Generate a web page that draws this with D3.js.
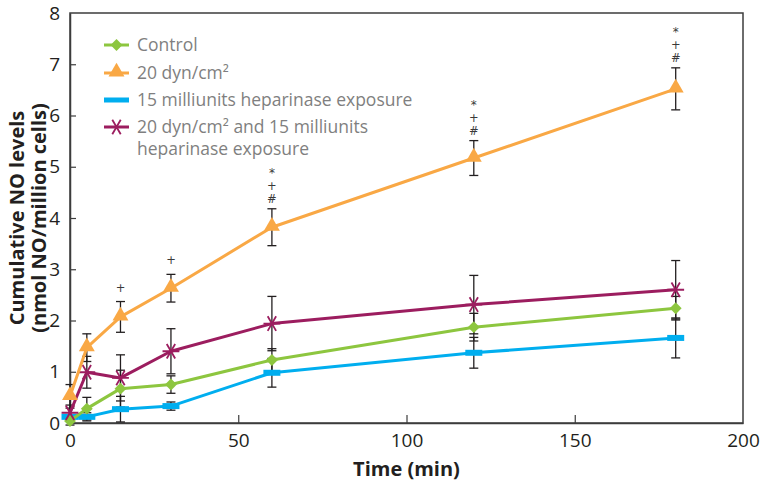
<!DOCTYPE html>
<html><head><meta charset="utf-8">
<script src="https://cdn.jsdelivr.net/npm/d3@7"></script>
<style>
body{margin:0;background:#fff;}
svg{display:block;font-family:"Open Sans","Liberation Sans",sans-serif;}
</style></head>
<body><svg id="c" width="764" height="485"></svg>
<script>
const times = [0, 5, 15, 30, 60, 120, 180];
const seriesNames = ["Control", "20 dyn/cm²", "15 milliunits heparinase exposure", "20 dyn/cm² and 15 milliunits heparinase exposure"];
const controlVals = [0.04, 0.28, 0.67, 0.75, 1.23, 1.87, 2.24];
const controlErr  = [0.08, 0.22, 0.36, 0.17, 0.22, 0.27, 0.23];
const shearVals   = [0.52, 1.47, 2.07, 2.63, 3.82, 5.17, 6.52];
const shearErr    = [0.23, 0.27, 0.3, 0.27, 0.36, 0.34, 0.41];
const heparVals   = [0.12, 0.12, 0.27, 0.33, 0.98, 1.37, 1.66];
const heparErr    = [0.04, 0.08, 0.25, 0.08, 0.28, 0.3, 0.39];
const comboVals   = [0.2, 0.99, 0.88, 1.4, 1.94, 2.31, 2.6];
const comboErr    = [0.15, 0.31, 0.45, 0.44, 0.53, 0.57, 0.57];
const annotations = ["", "", "+", "+", "*+#", "*+#", "*+#"];
const xTicks = [0, 50, 100, 150, 200];
const yTicks = [0, 1, 2, 3, 4, 5, 6, 7, 8];

const W = 764, H = 485;
const m = {l: 70, r: 21, t: 13, b: 62};
const svg = d3.select("#c");
const x = d3.scaleLinear().domain([0, 200]).range([m.l, W - m.r]);
const y = d3.scaleLinear().domain([0, 8]).range([H - m.b, m.t]);

const axisCol = "#3c3c3c", textCol = "#231f20";

svg.append("rect").attr("x", m.l).attr("y", m.t)
  .attr("width", W - m.r - m.l).attr("height", H - m.b - m.t)
  .attr("fill", "none").attr("stroke", axisCol).attr("stroke-width", 1.5);

const xa = svg.append("g").attr("transform", `translate(0,${H - m.b})`)
  .call(d3.axisBottom(x).tickValues(xTicks).tickSizeInner(-8).tickSizeOuter(0).tickPadding(11));
const ya = svg.append("g").attr("transform", `translate(${m.l},0)`)
  .call(d3.axisLeft(y).tickValues(yTicks).tickSizeInner(-6).tickSizeOuter(0).tickPadding(10));
[xa, ya].forEach(a => {
  a.select(".domain").attr("stroke", axisCol).attr("stroke-width", 1.5);
  a.selectAll(".tick line").attr("stroke", axisCol).attr("stroke-width", 1.2);
  a.selectAll(".tick text").attr("fill", textCol).style("font-size", "19px")
   .style("font-family", "'Open Sans', sans-serif").style("font-weight", 400);
});
xa.selectAll(".tick").filter(d => d === 0 || d === 200).select("line").remove();
ya.selectAll(".tick").filter(d => d === 0 || d === 8).select("line").remove();

svg.append("text").attr("x", x(100)).attr("y", 476).attr("text-anchor", "middle")
  .attr("fill", textCol).style("font-size", "20px").style("font-weight", 700)
  .style("font-family", "'Open Sans', sans-serif")
  .text("Time (min)");
const yt = svg.append("text").attr("transform", `translate(24,${y(4)}) rotate(-90)`)
  .attr("text-anchor", "middle").attr("fill", textCol)
  .style("font-size", "20px").style("font-weight", 700).style("font-family", "'Open Sans', sans-serif");
yt.append("tspan").attr("x", 0).attr("dy", 0).text("Cumulative NO levels");
yt.append("tspan").attr("x", 0).attr("dy", 22).text("(nmol NO/million cells)");

const series = [
  {name: seriesNames[0], vals: controlVals, err: controlErr, color: "#8dc63f", marker: "diamond"},
  {name: seriesNames[1], vals: shearVals, err: shearErr, color: "#f9a845", marker: "triangle"},
  {name: seriesNames[2], vals: heparVals, err: heparErr, color: "#00aeef", marker: "dash"},
  {name: seriesNames[3], vals: comboVals, err: comboErr, color: "#9c1d5f", marker: "asterisk"}
];

const eb = svg.append("g");
series.forEach(s => {
  times.forEach((t, i) => {
    const cx = x(t), y1 = y(s.vals[i] + s.err[i]), y2 = y(s.vals[i] - s.err[i]);
    eb.append("line").attr("x1", cx).attr("x2", cx).attr("y1", y1).attr("y2", y2)
      .attr("stroke", "#231f20").attr("stroke-width", 1.3);
    [y1, y2].forEach(yy => eb.append("line").attr("x1", cx - 4.5).attr("x2", cx + 4.5)
      .attr("y1", yy).attr("y2", yy).attr("stroke", "#231f20").attr("stroke-width", 1.3));
  });
});

function drawMarker(g, type, color, cx, cy) {
  if (type === "diamond") {
    g.append("path").attr("d", d3.symbol(d3.symbolDiamond2, 90)())
      .attr("transform", `translate(${cx},${cy})`).attr("fill", color);
  } else if (type === "triangle") {
    g.append("path").attr("d", d3.symbol(d3.symbolTriangle, 110)())
      .attr("transform", `translate(${cx},${cy - 1})`).attr("fill", color);
  } else if (type === "dash") {
    g.append("rect").attr("x", cx - 8.5).attr("y", cy - 3).attr("width", 17).attr("height", 6).attr("fill", color);
  } else {
    g.append("path").attr("d", d3.symbol(d3.symbolAsterisk, 200)())
      .attr("transform", `translate(${cx},${cy}) rotate(90)`)
      .attr("fill", "none").attr("stroke", color).attr("stroke-width", 1.8);
  }
}

const line = d3.line().x((d, i) => x(times[i])).y(d => y(d));
const lg = svg.append("g");
[2, 0, 3, 1].forEach(k => {
  const s = series[k];
  lg.append("path").datum(s.vals).attr("d", line).attr("fill", "none")
    .attr("stroke", s.color).attr("stroke-width", 3).attr("stroke-linejoin", "round");
  s.vals.forEach((v, i) => drawMarker(lg, s.marker, s.color, x(times[i]), y(v)));
});

// significance annotations, stacked above the upper error cap: "#" lowest, then "+", then "*"
const ag = svg.append("g");
const baseOff = {"#": 6, "+": 19, "*": 32};
annotations.forEach((a, i) => {
  if (!a) return;
  const top = y(shearVals[i] + shearErr[i]);
  const cx = x(times[i]);
  a.split("").forEach(ch => {
    const off = (a.length === 1) ? 10 : baseOff[ch];
    ag.append("text").attr("x", cx).attr("y", top - off)
      .attr("text-anchor", "middle").attr("fill", "#3a3a3a")
      .style("font-size", ch === "*" ? "12px" : "11.5px").style("font-family", "'DejaVu Sans', sans-serif")
      .text(ch);
  });
});

const leg = svg.append("g");
const legRows = [45, 73, 100, 127];
series.forEach((s, k) => {
  const yy = legRows[k];
  leg.append("line").attr("x1", 104).attr("x2", 129).attr("y1", yy).attr("y2", yy)
    .attr("stroke", s.color).attr("stroke-width", 3);
  if (s.marker === "dash") {
    leg.append("rect").attr("x", 104).attr("y", yy - 2.5).attr("width", 25).attr("height", 5).attr("fill", s.color);
  } else drawMarker(leg, s.marker, s.color, 116.5, yy);
  const t = leg.append("text").attr("x", 137).attr("y", yy + 6).attr("fill", "#7f7f80")
    .style("font-size", "17.5px").style("font-family", "'Open Sans', sans-serif");
  if (k === 3) {
    t.text("20 dyn/cm² and 15 milliunits");
    leg.append("text").attr("x", 137).attr("y", yy + 28).attr("fill", "#7f7f80")
      .style("font-size", "17.5px").style("font-family", "'Open Sans', sans-serif")
      .text("heparinase exposure");
  } else t.text(s.name);
});
</script></body></html>
